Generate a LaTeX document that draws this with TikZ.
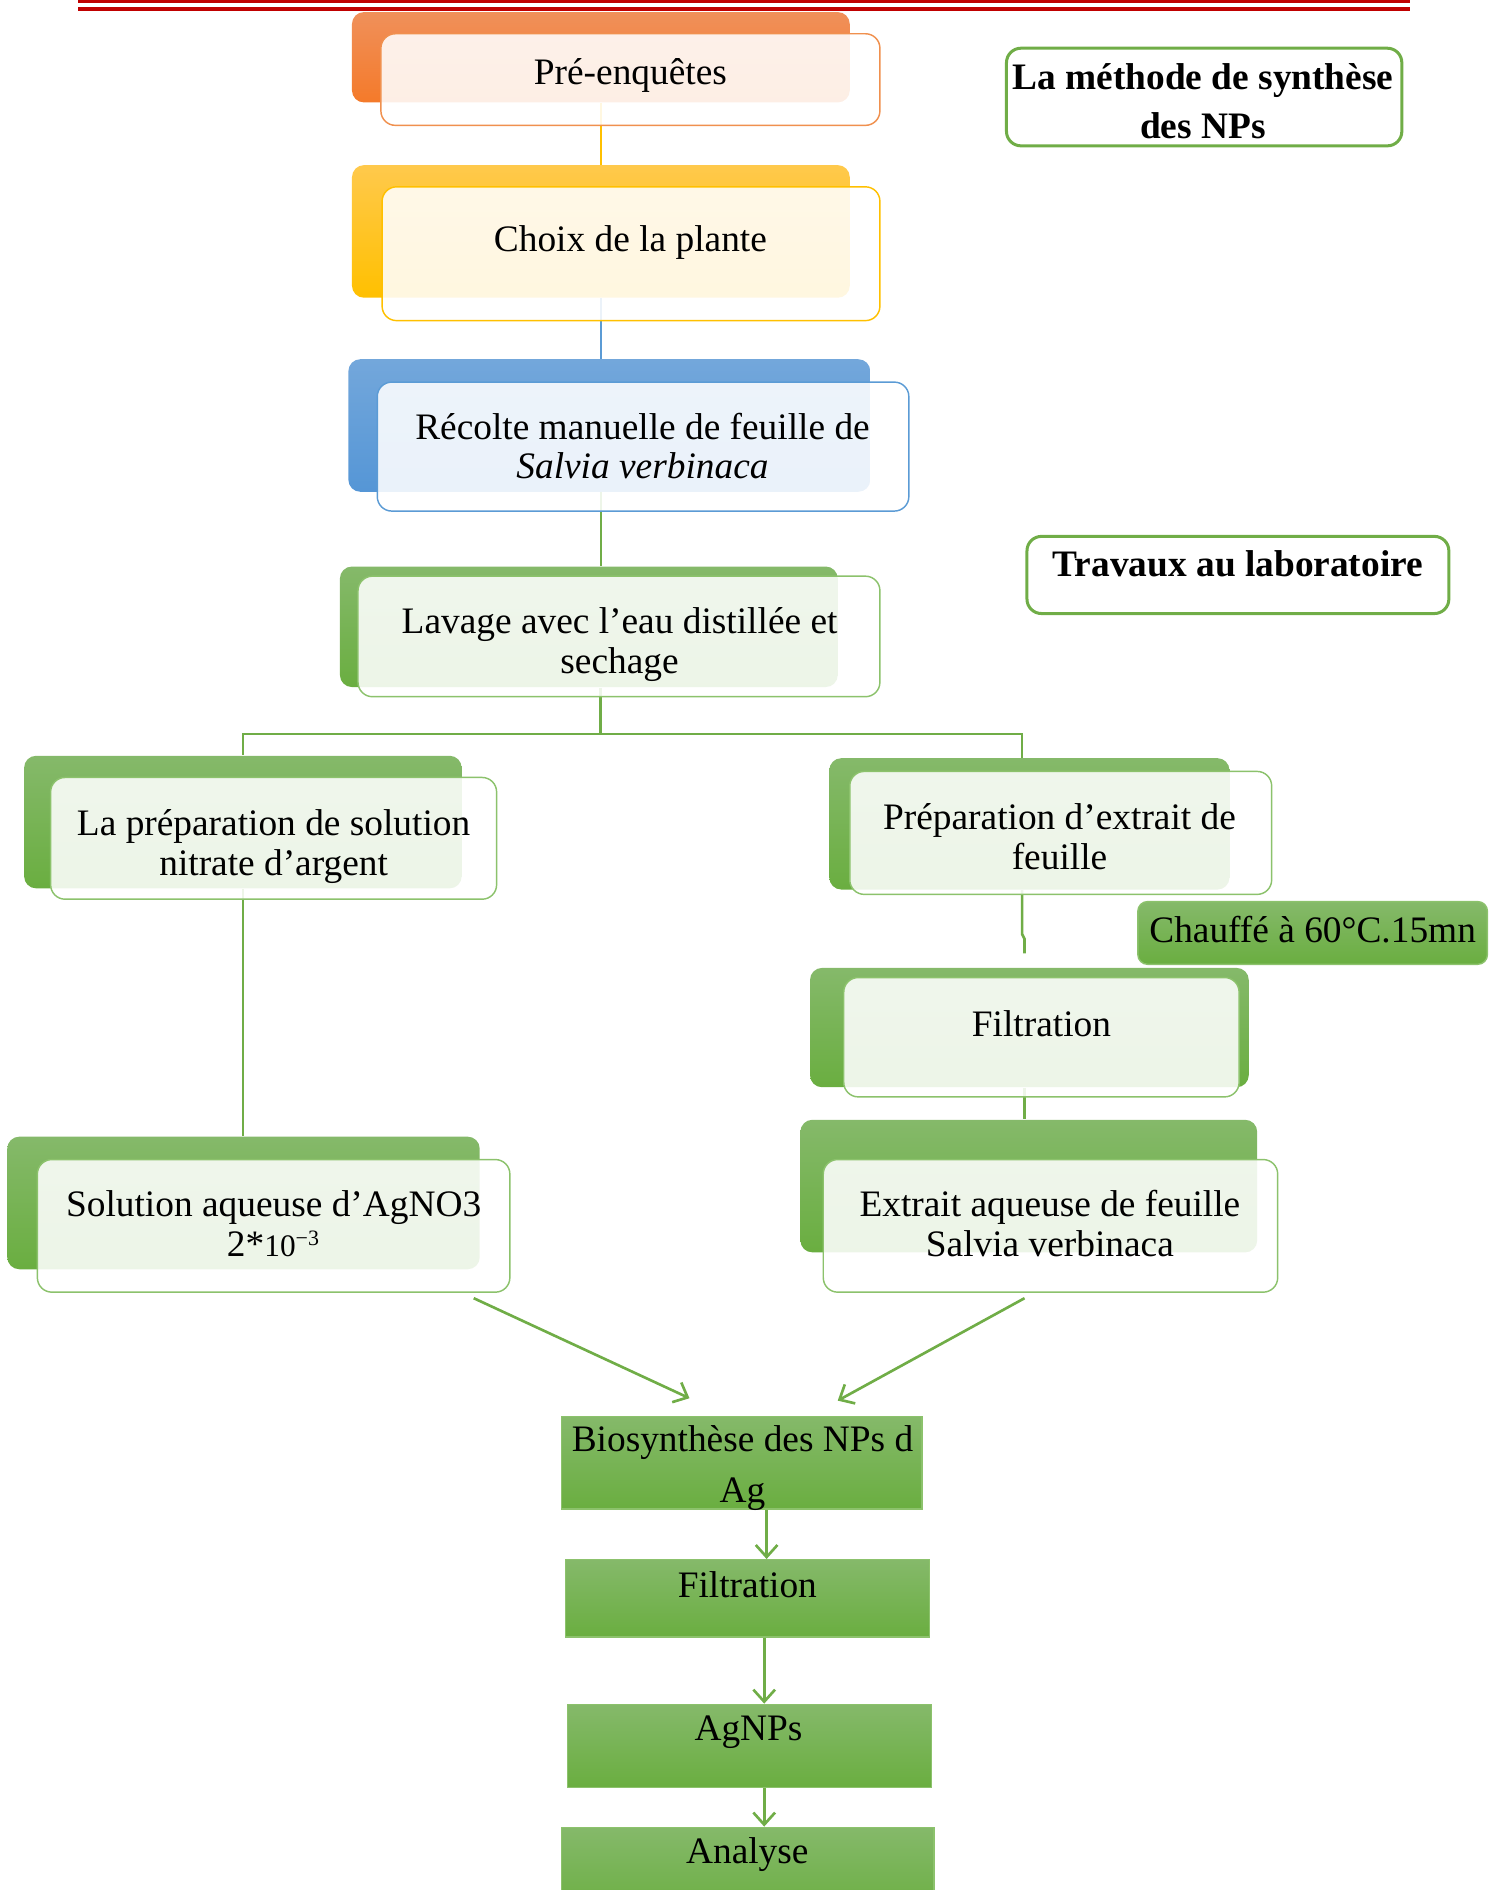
\documentclass[tikz,border=0pt]{standalone}
\usepackage{fontspec}
\setmainfont{Liberation Serif}
\usetikzlibrary{fit,arrows.meta,calc}
\definecolor{gr}{HTML}{70AD47}
\definecolor{grTop}{HTML}{85B96A}
\definecolor{grBot}{HTML}{6AAE40}
\definecolor{grLine}{HTML}{8CC26C}
\definecolor{orTop}{HTML}{F0905A}
\definecolor{orBot}{HTML}{F47A2A}
\definecolor{orLine}{HTML}{F0904E}
\definecolor{goTop}{HTML}{FFC94C}
\definecolor{goBot}{HTML}{FFC000}
\definecolor{goLine}{HTML}{FFC000}
\definecolor{blTop}{HTML}{73A7DB}
\definecolor{blBot}{HTML}{5596D6}
\definecolor{blLine}{HTML}{5B9BD5}
\definecolor{redline}{HTML}{C00000}
\begin{document}
\begin{tikzpicture}[x=0.5pt,y=-0.5pt,
  bk/.style={inner sep=0pt, rounded corners=5pt, draw=none},
  bkor/.style={bk, top color=orTop, bottom color=orBot},
  bkgo/.style={bk, top color=goTop, bottom color=goBot},
  bkbl/.style={bk, top color=blTop, bottom color=blBot},
  bkgr/.style={bk, top color=grTop, bottom color=grBot},
  fr/.style={inner sep=0pt, rounded corners=6pt, fill=white, fill opacity=0.88, line width=0.6pt},
  rectbox/.style={inner sep=0pt, top color=grTop, bottom color=grBot, draw=grLine, line width=0.6pt},
  titlebox/.style={inner sep=0pt, rounded corners=6pt, draw=gr, line width=1.25pt},
  txt/.style={inner sep=0pt, align=center, font=\fontsize{15.5pt}{16.5pt}\selectfont},
  btxt/.style={inner sep=0pt, align=center, font=\fontsize{15.5pt}{20pt}\selectfont\bfseries},
  conn/.style={line width=1.1pt},
  arr/.style={line width=1.1pt, draw=gr, -{Straight Barb[length=5pt,width=9pt]}}
]
\useasboundingbox (0,0) rectangle (1238,1568);

% red header lines
\draw[redline, line width=1.25pt] (65,1.2) coordinate (r1a) -- (1170,1.2) coordinate (r1b);
\draw[redline, line width=1.65pt] (65,7.2) coordinate (r2a) -- (1170,7.2) coordinate (r2b);

% back boxes
\node (preB) [bkor, fit={(292,10)(705,85)}] {};
\node (choixB) [bkgo, fit={(292,137)(705,247)}] {};
\node (recB) [bkbl, fit={(289,298)(722,408)}] {};
\node (lavB) [bkgr, fit={(282,470)(695,570)}] {};
\node (pAB) [bkgr, fit={(20,627)(383,737)}] {};
\node (solB) [bkgr, fit={(6,943)(398,1053)}] {};
\node (pBB) [bkgr, fit={(688,629)(1020,738)}] {};
\node (filB) [bkgr, fit={(672,803)(1036,902)}] {};
\node (extB) [bkgr, fit={(664,929)(1043,1039)}] {};
\node (chauf) [bkgr, rounded corners=4pt, draw=grLine, line width=0.6pt, fit={(944,748)(1234,800)}] {};

% bottom rectangles
\node (bio) [rectbox, fit={(466,1175)(765,1252)}] {};
\node (fil2) [rectbox, fit={(469,1294)(771,1358)}] {};
\node (agn) [rectbox, fit={(471,1414)(773,1483)}] {};
\node (ana) [rectbox, fit={(466,1516)(775,1590)}] {};

% title boxes
\node (t1) [titlebox, fit={(835,40)(1163,121)}] {};
\node (t2) [titlebox, fit={(852,445)(1202,509)}] {};

% coordinates
\coordinate (split) at (498,609);
\coordinate (rx) at (848,0);
\coordinate (jx) at (850,0);
\coordinate (jog1) at (848,775);
\coordinate (jend) at (850,791);
\coordinate (a1s) at (393,1077);
\coordinate (a1e) at (572,1160);
\coordinate (a2s) at (850,1077);
\coordinate (a2e) at (695,1162);
\coordinate (ax) at (636,0);
\coordinate (bx) at (634,0);

% connectors
\draw[conn, goLine] (preB.south) -- (preB.south |- choixB.north);
\draw[conn, blLine] (choixB.south) -- (choixB.south |- recB.north);
\draw[conn, gr] (choixB.south |- recB.south) -- (choixB.south |- lavB.north);
\draw[conn, gr] (split |- lavB.south) -- (split) -| (pAB.north);
\draw[conn, gr] (split) -| (pBB.north -| rx);
\draw[conn, gr] (pAB.south) -- (pAB.south |- solB.north);
\draw[conn, gr] (pBB.south -| rx) -- (jog1) -- ++(2,4) -- (jend);
\draw[conn, gr] (filB.south -| jx) -- (extB.north -| jx);
\draw[arr] (a1s) -- (a1e);
\draw[arr] (a2s) -- (a2e);
\draw[arr] (bio.south -| ax) -- (fil2.north -| ax);
\draw[arr] (fil2.south -| bx) -- (agn.north -| bx);
\draw[arr] (agn.south -| bx) -- (ana.north -| bx);

% front boxes
\node (preF) [fr, draw=orLine, fit={(316,28)(730,104)}] {};
\node (choixF) [fr, draw=goLine, fit={(317,155)(730,266)}] {};
\node (recF) [fr, draw=blLine, fit={(313,317)(754,424)}] {};
\node (lavF) [fr, draw=grLine, fit={(297,478)(730,578)}] {};
\node (pAF) [fr, draw=grLine, fit={(42,645)(412,746)}] {};
\node (solF) [fr, draw=grLine, fit={(31,962)(423,1072)}] {};
\node (pBF) [fr, draw=grLine, fit={(705,640)(1055,742)}] {};
\node (filF) [fr, draw=grLine, fit={(700,811)(1028,910)}] {};
\node (extF) [fr, draw=grLine, fit={(683,962)(1060,1072)}] {};

% texts
\node (preT) [txt] at (523,63) {Pré-enquêtes};
\node (choixT) [txt] at (523,201) {Choix de la plante};
\node (recT) [txt] at (533,370) {Récolte manuelle de feuille de\\\textit{Salvia verbinaca}};
\node (lavT) [txt] at (514,535) {Lavage avec l’eau distillée et\\sechage};
\node (pAT) [txt] at (227,702) {La préparation de solution\\nitrate d’argent};
\node (solT) [txt] at (227,1015) {Solution aqueuse d’AgNO3\\2*{\fontsize{13pt}{13pt}\selectfont 10\textsuperscript{−3}}};
\node (pBT) [txt] at (879,694) {Préparation d’extrait de\\feuille};
\node (chaufT) [txt] at (1089,771) {Chauffé à 60°C.15mn};
\node (filT) [txt] at (864,849) {Filtration};
\node (extT) [txt] at (871,1015) {Extrait aqueuse de feuille\\Salvia verbinaca};
\node (bioT) [txt, font=\fontsize{15.5pt}{21pt}\selectfont] at (616,1218) {Biosynthèse des NPs d\\Ag};
\node (fil2T) [txt] at (620,1315) {Filtration};
\node (agnT) [txt] at (621,1437) {AgNPs};
\node (anaT) [txt] at (620,1539) {Analyse};
\node (t1T) [btxt] at (998,84) {La méthode de synthèse\\des NPs};
\node (t2T) [btxt] at (1027,468) {Travaux au laboratoire};
\end{tikzpicture}
\end{document}
